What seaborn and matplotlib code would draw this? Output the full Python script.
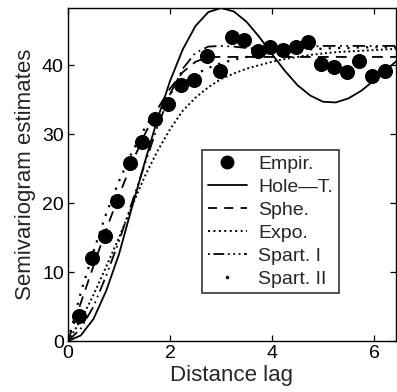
import matplotlib
matplotlib.use("Agg")
import matplotlib.pyplot as plt
from matplotlib.lines import Line2D
import seaborn as sns
import pandas as pd

### Data

empLag = [0.22, 0.47, 0.72, 0.96, 1.22, 1.46, 1.71, 1.96, 2.22, 2.47, 2.72, 2.97, 3.21,
          3.46, 3.72, 3.96, 4.21, 4.46, 4.71, 4.96, 5.21, 5.46, 5.71, 5.96, 6.21]
empVal = [3.6, 12.0, 15.2, 20.3, 25.8, 28.9, 32.2, 34.4, 37.1, 37.9, 41.4, 39.2, 44.1,
          43.6, 42.0, 42.7, 42.2, 42.7, 43.3, 40.2, 39.8, 39.0, 40.6, 38.4, 39.1]

lag = [0, 0.25, 0.5, 0.75, 1.0, 1.25, 1.5, 1.75, 2.0, 2.25, 2.5, 2.75, 3.0, 3.25,
       3.5, 3.75, 4.0, 4.25, 4.5, 4.75, 5.0, 5.25, 5.5, 5.75, 6.0, 6.25, 6.5]
holeT = [0, 0.8, 3.2, 7.3, 12.6, 19.3, 25.8, 32.1, 37.7, 42.3, 45.7, 47.7, 48.3, 47.8,
         46.3, 44.1, 41.6, 39.2, 37.1, 35.6, 34.7, 34.6, 35.2, 36.3, 37.8, 39.4, 41.0]
sphe = [0, 5.5, 10.9, 16.2, 21.1, 25.8, 29.9, 33.6, 36.6, 39.0, 40.5, 41.2, 41.2, 41.2,
        41.2, 41.2, 41.2, 41.2, 41.2, 41.2, 41.2, 41.2, 41.2, 41.2, 41.2, 41.2, 41.2]
expo = [0, 3.0, 6.7, 10.8, 15.0, 19.5, 23.8, 27.5, 30.7, 33.4, 35.3, 36.8, 38.0, 38.8,
        39.5, 40.0, 40.5, 40.9, 41.2, 41.5, 41.7, 41.9, 42.0, 42.1, 42.2, 42.3, 42.4]
spart1 = [0, 1.8, 5.0, 9.5, 14.5, 20.0, 25.5, 31.0, 35.8, 39.5, 41.8, 42.7, 42.8, 42.7,
          42.5, 42.4, 42.4, 42.5, 42.6, 42.7, 42.8, 42.8, 42.8, 42.8, 42.8, 42.8, 42.8]
spart2 = [0, 7.0, 13.0, 18.5, 23.2, 27.3, 30.8, 33.7, 35.9, 37.5, 38.7, 39.6, 40.3, 40.8,
          41.2, 41.5, 41.8, 42.0, 42.2, 42.3, 42.4, 42.5, 42.5, 42.6, 42.6, 42.6, 42.6]

labels = ["Empir.", "Hole\u2014T.", "Sphe.", "Expo.", "Spart. I", "Spart. II"]

####

sns.set_theme(style="ticks")
plt.rcParams['font.family'] = ['Liberation Sans', 'DejaVu Sans']
plt.rcParams['xtick.direction'] = 'in'
plt.rcParams['ytick.direction'] = 'in'

fig = plt.figure(figsize=(3.97, 3.92), dpi=100)
ax = fig.add_axes([68/397, 1 - 341/392, 328/397, 333/392])

styles = {
  "Hole-T.": ('-', 1.3),
  "Sphe.": ((0, (6, 4)), 1.3),
  "Expo.": ((0, (1, 1.4)), 1.4),
  "Spart. I": ((0, (7, 2.5, 1, 2.5, 1, 2.5)), 1.3),
  "Spart. II": ((0, (1, 3.2)), 1.6),
}
curves = {"Hole-T.": holeT, "Sphe.": sphe, "Expo.": expo, "Spart. I": spart1, "Spart. II": spart2}

for name, vals in curves.items():
  df = pd.DataFrame({"lag": lag, "val": vals})
  ls, lw = styles[name]
  sns.lineplot(data=df, x="lag", y="val", ax=ax, color="black", linestyle=ls, linewidth=lw)

empDf = pd.DataFrame({"lag": empLag, "val": empVal})
sns.scatterplot(data=empDf, x="lag", y="val", ax=ax, color="black", s=100, edgecolor="black", zorder=5)

ax.set_xlim(0, 6.43)
ax.set_ylim(0, 48.3)
ax.set_xticks([0, 2, 4, 6])
ax.set_yticks([0, 10, 20, 30, 40])
ax.tick_params(top=True, right=True, labelsize=14, length=4, width=0.9, colors="black", pad=3)
for sp in ax.spines.values():
  sp.set_linewidth(1.0)
  sp.set_color("black")
ax.set_xlabel("Distance lag", fontsize=16, labelpad=2)
ax.set_ylabel("Semivariogram estimates", fontsize=16, labelpad=4)

handles = [
  Line2D([], [], color="black", marker="o", markersize=9, linestyle="none"),
  Line2D([], [], color="black", linestyle='-', linewidth=1.3),
  Line2D([], [], color="black", linestyle=(0, (5, 4)), linewidth=1.3),
  Line2D([], [], color="black", linestyle=(0, (1, 1.8)), linewidth=1.4),
  Line2D([], [], color="black", linestyle=(0, (1, 2, 6, 2, 1, 2, 1, 2)), linewidth=1.3),
  Line2D([], [], color="black", marker=".", markersize=3, linestyle="none"),
]
leg = ax.legend(handles, labels, loc="upper left", bbox_to_anchor=(0.408, 0.574),
                fontsize=14, frameon=True, fancybox=False, handlelength=2.0,
                labelspacing=0.27, borderpad=0.3, handletextpad=0.6, borderaxespad=0)
leg.get_frame().set_edgecolor("black")
leg.get_frame().set_linewidth(1.2)

fig.savefig("out.png", dpi=100)
